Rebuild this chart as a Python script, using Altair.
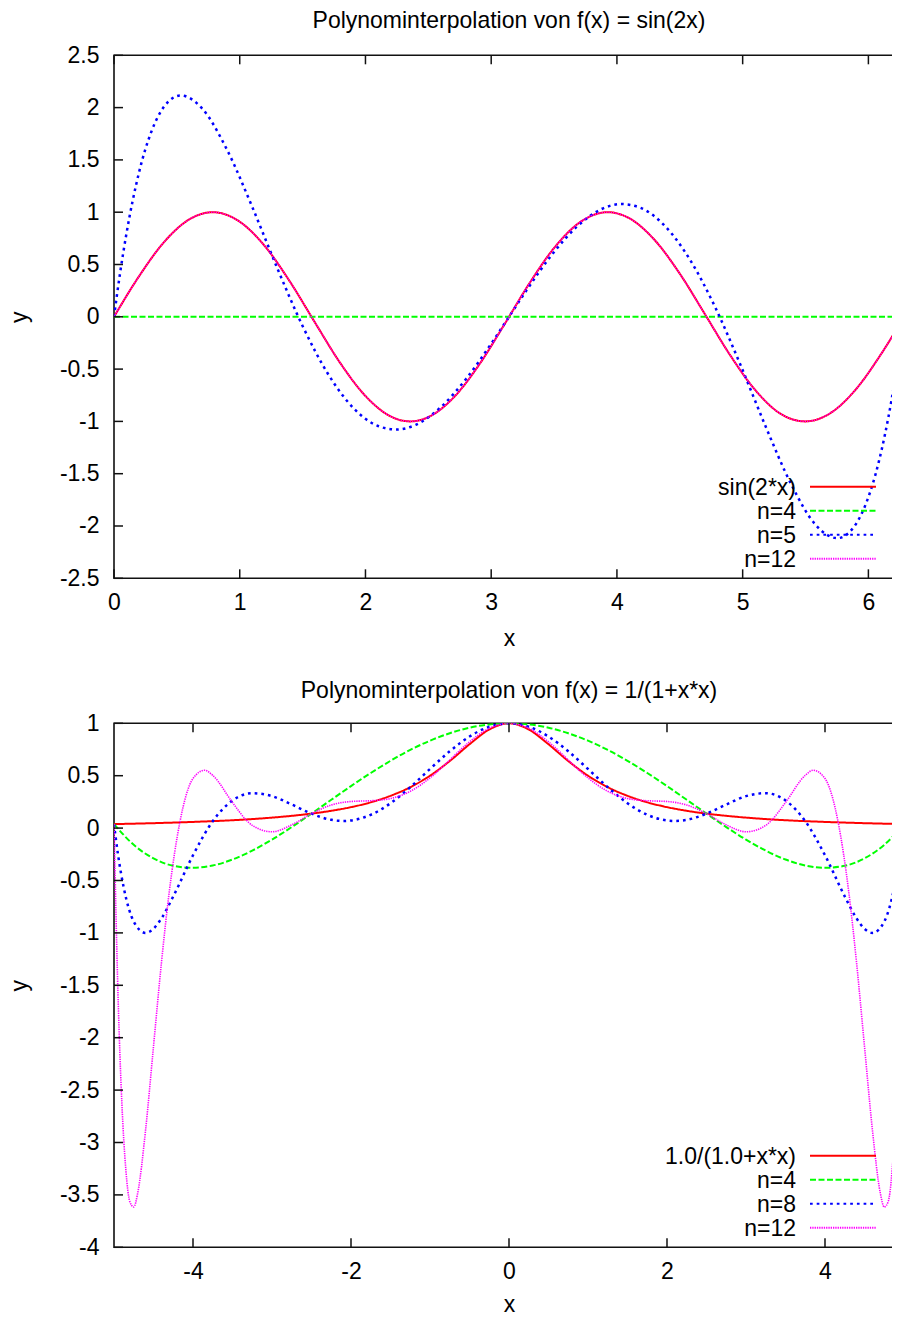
import altair as alt
import pandas as pd

FONT = "Liberation Sans"
FS = 23
W = 790
H_TOP = 523
H_BOT = 524

RED = "#ff0000"
GREEN = "#00ff00"
BLUE = "#0000ff"
MAGENTA = "#ff00ff"

DASH_SOLID = [1, 0]
DASH_GREEN = [6, 2.5]
DASH_BLUE = [2.7, 4]
DASH_MAG = [1.3, 1]

# ---------------- top panel: f(x) = sin(2x) ----------------
top_title = "Polynominterpolation von f(x) = sin(2x)"
top_xticks = [0, 1, 2, 3, 4, 5, 6]
top_yticks = [2.5, 2, 1.5, 1, 0.5, 0, -0.5, -1, -1.5, -2, -2.5]
top_legend = ["sin(2*x)", "n=4", "n=5", "n=12"]

sin_x = [0, 0.2, 0.4, 0.6, 0.785, 1.0, 1.2, 1.4, 1.6, 1.8, 2.0, 2.2, 2.356, 2.5, 2.7,
         2.9, 3.1, 3.3, 3.5, 3.7, 3.927, 4.1, 4.3, 4.5, 4.7, 4.9, 5.1, 5.3, 5.498, 5.7,
         5.9, 6.1, 6.283]
sin_y = [0, 0.389, 0.717, 0.932, 1.0, 0.909, 0.675, 0.335, -0.058, -0.443, -0.757, -0.952,
         -1.0, -0.959, -0.773, -0.465, -0.083, 0.312, 0.657, 0.899, 1.0, 0.941, 0.734,
         0.412, 0.025, -0.366, -0.700, -0.926, -1.0, -0.919, -0.694, -0.358, 0.0]

top_n4_x = [0, 6.283]
top_n4_y = [0, 0]

top_n5_x = [0, 0.05, 0.1, 0.2, 0.3, 0.4, 0.53, 0.7, 0.9, 1.1, 1.3, 1.5, 1.7, 1.9, 2.1,
            2.25, 2.4, 2.6, 2.8, 3.0, 3.142, 3.283, 3.483, 3.683, 3.883, 4.033, 4.183,
            4.383, 4.583, 4.783, 4.983, 5.183, 5.383, 5.583, 5.753, 5.883, 5.983, 6.083,
            6.183, 6.233, 6.283]
top_n5_y = [0, 0.431, 0.802, 1.385, 1.779, 2.012, 2.116, 1.993, 1.594, 1.049, 0.461,
            -0.088, -0.542, -0.867, -1.044, -1.078, -1.033, -0.863, -0.594, -0.257, 0,
            0.257, 0.594, 0.863, 1.033, 1.078, 1.044, 0.867, 0.542, 0.088, -0.461, -1.049,
            -1.594, -1.993, -2.116, -2.012, -1.779, -1.385, -0.802, -0.431, 0]

top_n12_x = [0, 0.2, 0.4, 0.6, 0.785, 1.0, 1.2, 1.4, 1.6, 1.8, 2.0, 2.2, 2.356, 2.5, 2.7,
             2.9, 3.1, 3.3, 3.5, 3.7, 3.927, 4.1, 4.3, 4.5, 4.7, 4.9, 5.1, 5.3, 5.498, 5.7,
             5.9, 6.1, 6.283]
top_n12_y = [0, 0.389, 0.717, 0.932, 1.0, 0.909, 0.675, 0.335, -0.058, -0.443, -0.757,
             -0.952, -1.0, -0.959, -0.773, -0.465, -0.083, 0.312, 0.657, 0.899, 1.0, 0.941,
             0.734, 0.412, 0.025, -0.366, -0.700, -0.926, -1.0, -0.919, -0.694, -0.358, 0.0]

# ---------------- bottom panel: f(x) = 1/(1+x*x) ----------------
bot_title = "Polynominterpolation von f(x) = 1/(1+x*x)"
bot_xticks = [-4, -2, 0, 2, 4]
bot_yticks = [1, 0.5, 0, -0.5, -1, -1.5, -2, -2.5, -3, -3.5, -4]
bot_legend = ["1.0/(1.0+x*x)", "n=4", "n=8", "n=12"]

runge_x = [-5, -4.5, -4, -3.5, -3, -2.75, -2.5, -2.25, -2, -1.75, -1.5, -1.25, -1, -0.75,
           -0.5, -0.25, 0, 0.25, 0.5, 0.75, 1, 1.25, 1.5, 1.75, 2, 2.25, 2.5, 2.75, 3,
           3.5, 4, 4.5, 5]
runge_y = [0.038, 0.047, 0.059, 0.075, 0.1, 0.117, 0.138, 0.165, 0.2, 0.246, 0.308, 0.39,
           0.5, 0.64, 0.8, 0.941, 1.0, 0.941, 0.8, 0.64, 0.5, 0.39, 0.308, 0.246, 0.2,
           0.165, 0.138, 0.117, 0.1, 0.075, 0.059, 0.047, 0.038]

bot_n4_x = [-5, -4.75, -4.5, -4.25, -4, -3.75, -3.5, -3.25, -3, -2.75, -2.5, -2.25, -2,
            -1.75, -1.5, -1.25, -1, -0.75, -0.5, -0.25, 0, 0.25, 0.5, 0.75, 1, 1.25, 1.5,
            1.75, 2, 2.25, 2.5, 2.75, 3, 3.25, 3.5, 3.75, 4, 4.25, 4.5, 4.75, 5]
bot_n4_y = [0.038, -0.160, -0.289, -0.360, -0.379, -0.357, -0.300, -0.215, -0.110, 0.010,
            0.138, 0.270, 0.401, 0.526, 0.642, 0.746, 0.834, 0.905, 0.958, 0.989, 1.0,
            0.989, 0.958, 0.905, 0.834, 0.746, 0.642, 0.526, 0.401, 0.270, 0.138, 0.010,
            -0.110, -0.215, -0.300, -0.357, -0.379, -0.360, -0.289, -0.160, 0.038]

bot_n8_x = [-5, -4.95, -4.875, -4.75, -4.6, -4.5, -4.4, -4.25, -4, -3.75, -3.5, -3.25, -3,
            -2.75, -2.5, -2.25, -2.1, -2, -1.75, -1.5, -1.25, -1, -0.75, -0.5, -0.25, 0,
            0.25, 0.5, 0.75, 1, 1.25, 1.5, 1.75, 2, 2.1, 2.25, 2.5, 2.75, 3, 3.25, 3.5,
            3.75, 4, 4.25, 4.4, 4.5, 4.6, 4.75, 4.875, 4.95, 5]
bot_n8_y = [0.038, -0.248, -0.574, -0.892, -1.000, -0.960, -0.862, -0.652, -0.259, 0.066,
            0.264, 0.333, 0.305, 0.225, 0.138, 0.079, 0.068, 0.073, 0.127, 0.237, 0.390,
            0.564, 0.733, 0.874, 0.967, 1.0, 0.967, 0.874, 0.733, 0.564, 0.390, 0.237,
            0.127, 0.073, 0.068, 0.079, 0.138, 0.225, 0.305, 0.333, 0.264, 0.066, -0.259,
            -0.652, -0.862, -0.960, -1.000, -0.892, -0.574, -0.248, 0.038]

bot_n12_x = [-5, -4.95, -4.9, -4.85, -4.8, -4.75, -4.7, -4.6, -4.5, -4.4, -4.3, -4.167, -4,
             -3.85, -3.75, -3.5, -3.333, -3.25, -3, -2.75, -2.5, -2.25, -2, -1.75, -1.667,
             -1.5, -1.25, -1, -0.833, -0.75, -0.5, -0.25, 0, 0.25, 0.5, 0.75, 0.833, 1,
             1.25, 1.5, 1.667, 1.75, 2, 2.25, 2.5, 2.75, 3, 3.25, 3.333, 3.5, 3.75, 3.85,
             4, 4.167, 4.3, 4.4, 4.5, 4.6, 4.7, 4.75, 4.8, 4.85, 4.9, 4.95, 5]
bot_n12_y = [0.038, -1.570, -2.631, -3.261, -3.564, -3.615, -3.483, -2.879, -2.083, -1.288,
             -0.605, 0.054, 0.473, 0.552, 0.503, 0.244, 0.083, 0.026, -0.035, 0.031, 0.138,
             0.220, 0.254, 0.261, 0.265, 0.282, 0.351, 0.479, 0.590, 0.650, 0.823, 0.952,
             1.0, 0.952, 0.823, 0.650, 0.590, 0.479, 0.351, 0.282, 0.265, 0.261, 0.254,
             0.220, 0.138, 0.031, -0.035, 0.026, 0.083, 0.244, 0.503, 0.552, 0.473, 0.054,
             -0.605, -1.288, -2.083, -2.879, -3.483, -3.615, -3.564, -3.261, -2.631, -1.570,
             0.038]

LEG_COLORS = [RED, GREEN, BLUE, MAGENTA]
LEG_DASHES = [DASH_SOLID, DASH_GREEN, DASH_BLUE, DASH_MAG]
LEG_WIDTHS = [2, 2, 2.5, 1.6]

TICK_LEN = 9
FRAME = "#111111"


def label_expr():
    return "'' + datum.value"


def panel(title, title_offset, xdom, ydom, xticks, yticks, H, xtitle_y, series,
          legend_labels):
    xs = alt.Scale(domain=xdom, nice=False, zero=False)
    ys = alt.Scale(domain=ydom, nice=False, zero=False)
    ax_x = alt.Axis(values=xticks, title="x", labelExpr=label_expr(), labelFont=FONT,
                    labelFontSize=FS, labelColor="black", labelPadding=13.5, ticks=False,
                    tickSize=0, domain=False, grid=False, labelFlush=False,
                    labelOverlap=False, titleFont=FONT, titleFontSize=FS,
                    titleFontWeight="normal", titleColor="black", titleX=W / 2,
                    titleY=xtitle_y, titleBaseline="alphabetic", titleAlign="center")
    ax_y = alt.Axis(values=yticks, title="y", labelExpr=label_expr(), labelFont=FONT,
                    labelFontSize=FS, labelColor="black", labelPadding=15, ticks=False,
                    tickSize=0, domain=False, grid=False, labelFlush=False,
                    labelOverlap=False, titleFont=FONT, titleFontSize=FS,
                    titleFontWeight="normal", titleColor="black", titleX=-88,
                    titleY=H / 2, titleAngle=270, titleAlign="center",
                    titleBaseline="alphabetic")
    X = lambda: alt.X("x:Q", scale=xs, axis=ax_x)
    Y = lambda: alt.Y("y:Q", scale=ys, axis=ax_y)

    layers = []
    for xv, yv, color, dash, sw in series:
        df = pd.DataFrame({"x": xv, "y": yv})
        layers.append(
            alt.Chart(df).mark_line(color=color, strokeDash=dash, strokeWidth=sw,
                                    clip=True, interpolate="monotone")
            .encode(x=X(), y=Y())
        )
    ydf = pd.DataFrame({"y": yticks})
    xdf = pd.DataFrame({"x": xticks})
    tick_mark = dict(color=FRAME, strokeWidth=1.5)
    layers.append(alt.Chart(ydf).mark_rule(**tick_mark).encode(
        y=Y(), x=alt.value(0), x2=alt.value(TICK_LEN)))
    layers.append(alt.Chart(ydf).mark_rule(**tick_mark).encode(
        y=Y(), x=alt.value(W - TICK_LEN), x2=alt.value(W)))
    layers.append(alt.Chart(xdf).mark_rule(**tick_mark).encode(
        x=X(), y=alt.value(0), y2=alt.value(TICK_LEN)))
    layers.append(alt.Chart(xdf).mark_rule(**tick_mark).encode(
        x=X(), y=alt.value(H - TICK_LEN), y2=alt.value(H)))
    inner = alt.layer(*layers)

    leg_df = pd.DataFrame({"label": legend_labels})
    ly = alt.Y("label:N", scale=alt.Scale(type="point", domain=legend_labels,
                                          range=[H - 91.5, H - 19.5], padding=0),
               axis=None)
    rules = alt.Chart(leg_df).mark_rule().encode(
        x=alt.value(696), x2=alt.value(762), y=ly,
        color=alt.Color("label:N", scale=alt.Scale(domain=legend_labels, range=LEG_COLORS),
                        legend=None),
        strokeDash=alt.StrokeDash("label:N", scale=alt.Scale(domain=legend_labels,
                                                             range=LEG_DASHES), legend=None),
        strokeWidth=alt.StrokeWidth("label:N", scale=alt.Scale(domain=legend_labels,
                                                               range=LEG_WIDTHS), legend=None),
    )
    texts = alt.Chart(leg_df).mark_text(align="right", baseline="middle", dy=1, font=FONT,
                                        fontSize=FS, color="black").encode(
        x=alt.value(682), y=ly, text="label:N")

    return alt.layer(inner, rules, texts).resolve_scale(y="independent").properties(
        width=W, height=H,
        title=alt.TitleParams(title, font=FONT, fontSize=FS, fontWeight="normal",
                              color="black", anchor="middle", frame="group",
                              offset=title_offset))


top = panel(top_title, 11.3, [0, 6.2832], [-2.5, 2.5], top_xticks, top_yticks, H_TOP,
            67.5, [
                (sin_x, sin_y, RED, DASH_SOLID, 2),
                (top_n4_x, top_n4_y, GREEN, DASH_GREEN, 2),
                (top_n5_x, top_n5_y, BLUE, DASH_BLUE, 2.5),
                (top_n12_x, top_n12_y, MAGENTA, DASH_MAG, 1.6),
            ], top_legend)

bot = panel(bot_title, 9.1, [-5, 5], [-4, 1], bot_xticks, bot_yticks, H_BOT, 64.5, [
    (runge_x, runge_y, RED, DASH_SOLID, 2),
    (bot_n4_x, bot_n4_y, GREEN, DASH_GREEN, 2),
    (bot_n8_x, bot_n8_y, BLUE, DASH_BLUE, 2.5),
    (bot_n12_x, bot_n12_y, MAGENTA, DASH_MAG, 1.6),
], bot_legend)

chart = alt.vconcat(top, bot, spacing=145, bounds="flush").resolve_scale(
    y="independent", color="independent", strokeDash="independent",
    strokeWidth="independent"
).properties(
    padding={"left": -1, "top": 0.3, "right": -14, "bottom": -3.5},
    background="white",
).configure_view(stroke=FRAME, strokeWidth=1.6)

chart.save("out.html", embed_options={"renderer": "svg", "actions": False})
